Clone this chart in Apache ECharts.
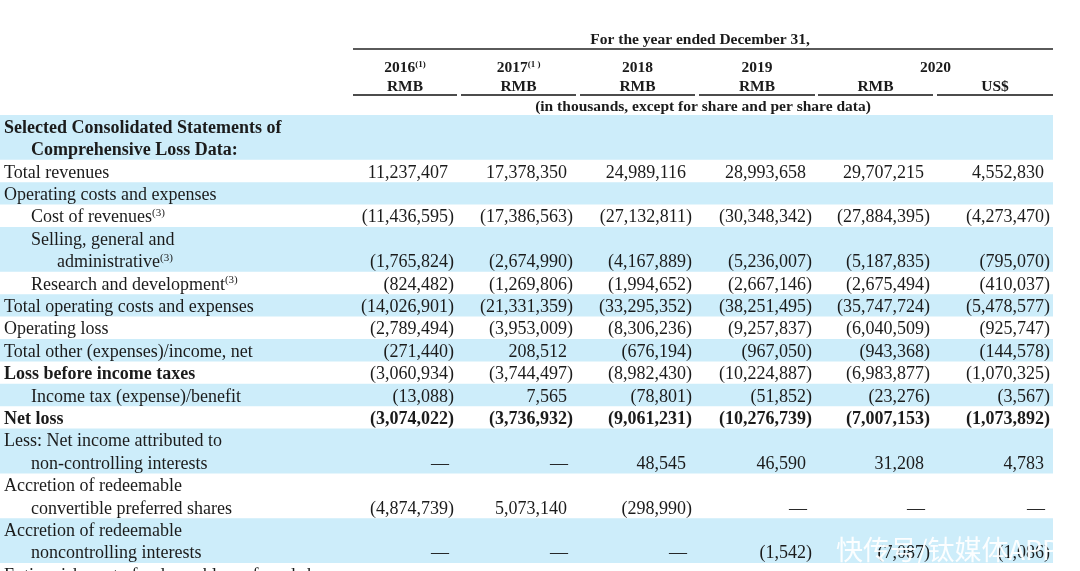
<!DOCTYPE html>
<html><head><meta charset="utf-8">
<script src="https://cdn.jsdelivr.net/npm/echarts@6/dist/echarts.min.js"></script>
<style>html,body{margin:0;padding:0;background:#fff}#c{width:1080px;height:571px}</style>
</head><body><div id="c"></div>
<script>
// ---------- data ----------
const titleText = 'For the year ended December 31,';
const yearLabels = ['2016', '2017', '2018', '2019', '2020'];
const yearNotes = ['(1)', '(1 )', '', '', ''];
const currencyLabels = ['RMB', 'RMB', 'RMB', 'RMB', 'RMB', 'US$'];
const unitNote = '(in thousands, except for share and per share data)';

const rowLabels = [
  ['Selected Consolidated Statements of', 'Comprehensive Loss Data:'],
  ['Total revenues'],
  ['Operating costs and expenses'],
  ['Cost of revenues'],
  ['Selling, general and', 'administrative'],
  ['Research and development'],
  ['Total operating costs and expenses'],
  ['Operating loss'],
  ['Total other (expenses)/income, net'],
  ['Loss before income taxes'],
  ['Income tax (expense)/benefit'],
  ['Net loss'],
  ['Less: Net income attributed to', 'non-controlling interests'],
  ['Accretion of redeemable', 'convertible preferred shares'],
  ['Accretion of redeemable', 'noncontrolling interests'],
  ['Extinguishment of redeemable preferred shares']
];
const rowNotes = ['', '', '', '(3)', '(3)', '(3)', '', '', '', '', '', '', '', '', '', ''];
const rowLabelBold = [true, false, false, false, false, false, false, false, false, true, false, true, false, false, false, false];
const rowValueBold = [false, false, false, false, false, false, false, false, false, false, false, true, false, false, false, false];
const rowHasValues = [false, true, false, true, true, true, true, true, true, true, true, true, true, true, true, false];

// null = dash
const v2016    = [null, 11237407, null, -11436595, -1765824, -824482, -14026901, -2789494, -271440, -3060934, -13088, -3074022, null, -4874739, null, null];
const v2017    = [null, 17378350, null, -17386563, -2674990, -1269806, -21331359, -3953009, 208512, -3744497, 7565, -3736932, null, 5073140, null, null];
const v2018    = [null, 24989116, null, -27132811, -4167889, -1994652, -33295352, -8306236, -676194, -8982430, -78801, -9061231, 48545, -298990, null, null];
const v2019    = [null, 28993658, null, -30348342, -5236007, -2667146, -38251495, -9257837, -967050, -10224887, -51852, -10276739, 46590, null, -1542, null];
const v2020rmb = [null, 29707215, null, -27884395, -5187835, -2675494, -35747724, -6040509, -943368, -6983877, -23276, -7007153, 31208, null, -7087, null];
const v2020usd = [null, 4552830, null, -4273470, -795070, -410037, -5478577, -925747, -144578, -1070325, -3567, -1073892, 4783, null, -1086, null];
const watermarkText = '快传号/钛媒体APP';

// ---------- layout ----------
const valueCols = [v2016, v2017, v2018, v2019, v2020rmb, v2020usd];
const L = {
  tableRight: 1053,
  colLeft:  [353, 461, 580, 699, 818, 937],
  colRight: [457, 576, 695, 815, 933, 1053],
  digitPad: 9,
  indentX: [4, 31, 57],
  rowIndent: [[0, 1], [0], [0], [1], [1, 2], [1], [0], [0], [0], [0], [1], [0], [0, 1], [0, 1], [0, 1], [0]],
  blue: '#cdedfa',
  ink: '#1b1b1b',
  serif: '"Liberation Serif", "DejaVu Serif", serif',
  bodySize: 18,
  headSize: 15.5,
  textShift: 0.08
};
const rowStart = [];
(function () { let s = 0; rowLabels.forEach(r => { rowStart.push(s); s += r.length; }); })();

function fmt(v) {
  return Math.abs(v).toString().replace(/\B(?=(\d{3})+(?!\d))/g, ',');
}
function font(size, bold) { return (bold ? 'bold ' : '') + size + 'px ' + L.serif; }

function renderRow(params, api) {
  const i = params.dataIndex;
  const s = rowStart[i], n = rowLabels[i].length;
  const p0 = api.coord([0, s]), p1 = api.coord([L.tableRight, s + n]);
  const ch = [];
  if (i % 2 === 0) {
    ch.push({ type: 'rect', shape: { x: p0[0], y: p0[1], width: p1[0] - p0[0], height: p1[1] - p0[1] }, style: { fill: L.blue } });
  }
  rowLabels[i].forEach((t, k) => {
    const pt = api.coord([L.indentX[L.rowIndent[i][k]], s + k + 0.5 + L.textShift]);
    const last = k === n - 1;
    const txt = (last && rowNotes[i]) ? '{a|' + t + '}{s|' + rowNotes[i] + '}' : '{a|' + t + '}';
    ch.push({
      type: 'text', x: pt[0], y: pt[1],
      style: {
        text: txt, align: 'left', verticalAlign: 'middle',
        rich: {
          a: { font: font(L.bodySize, rowLabelBold[i]), fill: L.ink, lineHeight: 22 },
          s: { font: font(11, false), fill: L.ink, lineHeight: 22, padding: [0, 0, 9, 0] }
        }
      }
    });
  });
  if (rowHasValues[i]) {
    valueCols.forEach((arr, c) => {
      const v = arr[i];
      const pt = api.coord([L.colRight[c] - L.digitPad, s + n - 0.5 + L.textShift]);
      const f = font(L.bodySize, rowValueBold[i]);
      if (v === null) {
        ch.push({ type: 'text', x: pt[0] + 1, y: pt[1], style: { text: '—', font: f, fill: L.ink, align: 'right', verticalAlign: 'middle' } });
      } else if (v < 0) {
        ch.push({ type: 'text', x: pt[0], y: pt[1], style: { text: '(' + fmt(v), font: f, fill: L.ink, align: 'right', verticalAlign: 'middle' } });
        ch.push({ type: 'text', x: pt[0], y: pt[1], style: { text: ')', font: f, fill: L.ink, align: 'left', verticalAlign: 'middle' } });
      } else {
        ch.push({ type: 'text', x: pt[0], y: pt[1], style: { text: fmt(v), font: f, fill: L.ink, align: 'right', verticalAlign: 'middle' } });
      }
    });
  }
  return { type: 'group', children: ch };
}

function renderHeader(params, api) {
  const ch = [];
  const hf = font(L.headSize, true);
  const x0 = L.colLeft[0], x1 = L.tableRight;
  let p = api.coord([(x0 + x1) / 2 - 3, -3.36]);
  ch.push({ type: 'text', x: p[0], y: p[1], style: { text: titleText, font: hf, fill: L.ink, align: 'center', verticalAlign: 'middle' } });
  let a = api.coord([x0, -2.95]), b = api.coord([x1, -2.95]);
  ch.push({ type: 'line', shape: { x1: a[0], y1: a[1], x2: b[0], y2: b[1] }, style: { stroke: '#5a5a5a', lineWidth: 2 } });
  for (let c = 0; c < 4; c++) {
    p = api.coord([(L.colLeft[c] + L.colRight[c]) / 2, -2.1]);
    const t = yearNotes[c] ? '{a|' + yearLabels[c] + '}{s|' + yearNotes[c] + '}' : '{a|' + yearLabels[c] + '}';
    ch.push({ type: 'text', x: p[0], y: p[1], style: { text: t, align: 'center', verticalAlign: 'middle',
      rich: { a: { font: hf, fill: L.ink, lineHeight: 18 }, s: { font: font(9, true), fill: L.ink, lineHeight: 18, padding: [0, 0, 7, 0] } } } });
  }
  p = api.coord([(L.colLeft[4] + L.colRight[5]) / 2, -2.1]);
  ch.push({ type: 'text', x: p[0], y: p[1], style: { text: yearLabels[4], font: hf, fill: L.ink, align: 'center', verticalAlign: 'middle' } });
  for (let c = 0; c < 6; c++) {
    p = api.coord([(L.colLeft[c] + L.colRight[c]) / 2, -1.25]);
    ch.push({ type: 'text', x: p[0], y: p[1], style: { text: currencyLabels[c], font: hf, fill: L.ink, align: 'center', verticalAlign: 'middle' } });
    a = api.coord([L.colLeft[c], -0.89]); b = api.coord([L.colRight[c], -0.89]);
    ch.push({ type: 'line', shape: { x1: a[0], y1: a[1], x2: b[0], y2: b[1] }, style: { stroke: '#111', lineWidth: 1.5 } });
  }
  p = api.coord([(x0 + x1) / 2, -0.37]);
  ch.push({ type: 'text', x: p[0], y: p[1], style: { text: unitNote, font: hf, fill: L.ink, align: 'center', verticalAlign: 'middle' } });
  return { type: 'group', children: ch };
}

const chart = echarts.init(document.getElementById('c'), null, { renderer: 'canvas' });
chart.setOption({
  animation: false,
  backgroundColor: '#ffffff',
  grid: { left: 0, right: 0, top: 0, bottom: 0 },
  xAxis: { type: 'value', min: 0, max: 1080, show: false },
  yAxis: { type: 'value', inverse: true, min: -115 / 22.4, max: 456 / 22.4, show: false },
  series: [
    { type: 'custom', clip: false, silent: true, renderItem: renderRow, data: rowLabels.map((r, i) => [0, rowStart[i]]) },
    { type: 'custom', clip: false, silent: true, renderItem: renderHeader, data: [[0, 0]] }
  ],
  graphic: [{
    type: 'text', left: 836, top: 536, z: 100, zlevel: 1, silent: true,
    style: { text: watermarkText, font: '27px "Noto Sans CJK SC", sans-serif', fill: 'rgba(255,255,255,0.93)', shadowColor: 'rgba(0,0,0,0.3)', shadowBlur: 2 }
  }]
});
</script>
</body></html>
